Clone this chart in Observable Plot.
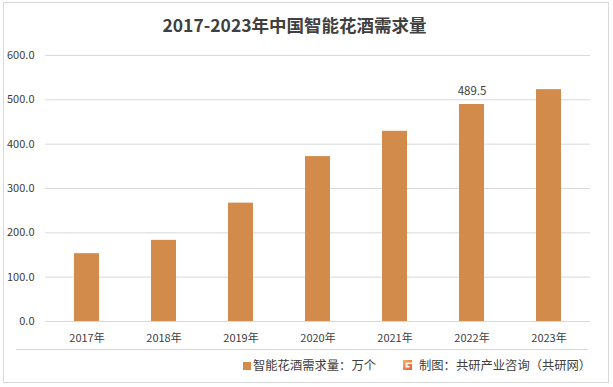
<!DOCTYPE html>
<html>
<head>
<meta charset="utf-8">
<script src="https://cdn.jsdelivr.net/npm/d3@7"></script>
<script src="https://cdn.jsdelivr.net/npm/@observablehq/plot@0.6"></script>
<style>
  html, body { margin: 0; padding: 0; background: #fff; }
  #wrap { position: relative; width: 613px; height: 387px; font-family: "Noto Sans CJK SC", "Noto Sans", sans-serif; overflow: hidden; }
  #frame { position: absolute; left: 3px; top: 2px; width: 604px; height: 379px; border: 1px solid #d9d9d9; pointer-events: none; }
  #title { height: 45px; line-height: 50px; text-align: center; font-size: 17.5px; font-weight: bold; color: #404040; padding-right: 24px; box-sizing: border-box; }
  #chart svg { display: block; }
  #legend { position: absolute; left: 16px; top: 349px; width: 572px; height: 30px; border-top: 1px solid #d9d9d9; font-size: 12.3px; color: #404040; }
  .lg { position: absolute; top: 6px; line-height: 18px; white-space: nowrap; }
  .sw { display: inline-block; width: 8px; height: 8px; margin-right: 2px; vertical-align: 0px; }
</style>
</head>
<body>
<div id="wrap">
  <div id="title"></div>
  <div id="chart"></div>
  <div id="legend"></div>
  <div id="frame"></div>
</div>
<script>
const title = "2017-2023年中国智能花酒需求量";
const years = ["2017年", "2018年", "2019年", "2020年", "2021年", "2022年", "2023年"];
const demand = [153, 183, 267, 372, 429, 489.5, 523];
const labeledYears = ["2022年"];
const yTicks = [0, 100, 200, 300, 400, 500, 600];
const seriesName = "智能花酒需求量：万个";
const sourceText = "制图：共研产业咨询（共研网）";
const barColor = "#D38B4C";

const data = years.map((y, i) => ({year: y, value: demand[i]}));

document.getElementById("title").textContent = title;

const plot = Plot.plot({
  width: 613,
  height: 304,
  marginTop: 10,
  marginBottom: 28,
  marginLeft: 45,
  marginRight: 23,
  style: {fontFamily: '"Noto Sans CJK SC", "Noto Sans", sans-serif', fontSize: "11px", color: "#404040", background: "transparent"},
  x: {domain: years, paddingInner: 0.68, paddingOuter: 0.34, label: null, tickSize: 0, tickPadding: 13},
  y: {domain: [0, 600], ticks: yTicks, tickFormat: d3.format(".1f"), label: null, tickSize: 0, tickPadding: 11},
  marks: [
    Plot.gridY(yTicks, {stroke: "#d9d9d9", strokeOpacity: 1, strokeWidth: 1}),
    Plot.barY(data, {x: "year", y: "value", fill: barColor}),
    Plot.text(data.filter(d => labeledYears.includes(d.year)), {x: "year", y: "value", text: d => d3.format(".1f")(d.value), dy: -13, fill: "#404040", fontSize: 11.5})
  ]
});
document.getElementById("chart").appendChild(plot);

const legend = document.getElementById("legend");
legend.innerHTML = `
  <div class="lg" style="left:227px"><span class="sw" style="background:${barColor}"></span>${seriesName}</div>
  <div class="lg" style="left:386px">
    <svg width="11" height="12" viewBox="0 0 11 12" style="vertical-align:-1px;margin-right:6px">
      <defs><linearGradient id="lg1" x1="0" y1="0" x2="1" y2="1"><stop offset="0" stop-color="#f7b05a"/><stop offset="1" stop-color="#ee5a3a"/></linearGradient></defs>
      <path d="M1 1 H10 V3.5 H3.5 V8.5 H7.5 V7 H5.5 V5 H10 V11 H1 Z" fill="url(#lg1)"/>
    </svg>${sourceText}</div>`;
</script>
</body>
</html>
